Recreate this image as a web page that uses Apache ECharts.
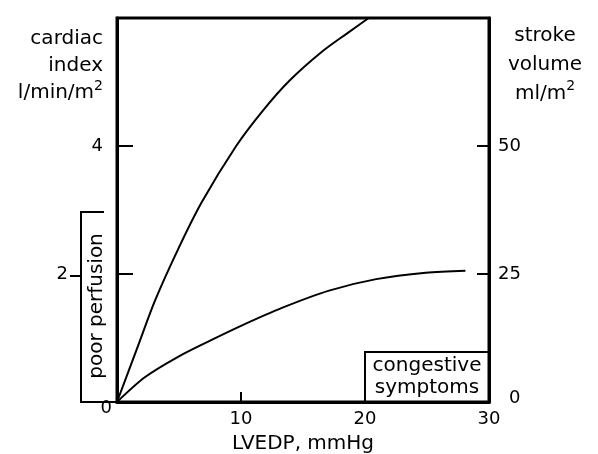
<!DOCTYPE html>
<html>
<head>
<meta charset="utf-8">
<script src="https://cdn.jsdelivr.net/npm/echarts@6/dist/echarts.min.js"></script>
<style>
  html, body { margin: 0; padding: 0; background: #fff; }
  #chart { width: 598px; height: 454px; }
</style>
</head>
<body>
<div id="chart"></div>
<script>
// LVEDP (mmHg) vs cardiac index (l/min/m2)
const upperX = [0, 1.74, 3.08, 4.96, 6.83, 9.61, 11.75, 13.9, 16.5, 18.7, 20.3]
const upperY = [0, 0.9, 1.59, 2.40, 3.12, 4.0, 4.55, 5.02, 5.47, 5.78, 6.0]
const lowerX = [0, 2.27, 4.96, 7.63, 10.0, 13.3, 17.1, 20.9, 24.9, 28.1]
const lowerY = [0, 0.39, 0.71, 0.97, 1.19, 1.47, 1.74, 1.92, 2.02, 2.05]

const xTicks = [0, 10, 20, 30]
const leftTicks = [0, 2, 4]
const rightTicks = [0, 25, 50]

const font = 'DejaVu Sans'
const ink = '#000'

const chart = echarts.init(document.getElementById('chart'))

const pairs = (xs, ys) => xs.map((x, i) => [x, ys[i]])

// 注释框位置（数据坐标）
const congestiveBox = [[20, 0], [30, 0.78]]

const supStyle = { fontFamily: font, fontSize: 14, fill: ink, verticalAlign: 'top', lineHeight: 20 }

const option = {
  animation: false,
  backgroundColor: '#fff',
  textStyle: { fontFamily: font, color: ink },
  grid: {
    left: 117, right: 109, top: 18, bottom: 52,
    outerBoundsMode: 'none', containLabel: false,
    show: true, borderColor: ink, borderWidth: 3
  },
  xAxis: {
    type: 'value', min: 0, max: 30, interval: 10,
    name: 'LVEDP, mmHg', nameLocation: 'middle', nameGap: 32,
    nameTextStyle: { fontFamily: font, fontSize: 20, color: ink },
    axisLine: { show: true, lineStyle: { color: ink, width: 3 } },
    axisTick: { show: true, inside: true, length: 10, lineStyle: { color: ink, width: 2 } },
    splitLine: { show: false },
    axisLabel: {
      margin: 8, fontFamily: font, fontSize: 18, color: ink,
      customValues: xTicks,
      formatter: v => v === 0 ? '' : String(v)
    }
  },
  yAxis: [
    {
      type: 'value', min: 0, max: 6, interval: 2,
      axisLine: { show: true, lineStyle: { color: ink, width: 3 } },
      axisTick: { show: true, inside: true, length: 16, lineStyle: { color: ink, width: 2 } },
      splitLine: { show: false },
      axisLabel: {
        margin: 5, fontFamily: font, fontSize: 18, color: ink,
        customValues: leftTicks,
        formatter: v => v === 0 ? '{z|0}' : (v === 2 ? '{b|2}' : '{f|4}'),
        rich: {
          z: { fontFamily: font, fontSize: 18, color: ink, padding: [12, 0, 0, 0] },
          b: { fontFamily: font, fontSize: 18, color: ink, padding: [0, 44, 0, 0] },
          f: { fontFamily: font, fontSize: 18, color: ink, padding: [0, 9, 0, 0] }
        }
      }
    },
    {
      type: 'value', min: 0, max: 75, interval: 25, position: 'right',
      axisLine: { show: true, lineStyle: { color: ink, width: 3 } },
      axisTick: { show: true, inside: true, length: 12, lineStyle: { color: ink, width: 2 } },
      splitLine: { show: false },
      axisLabel: {
        margin: 9, fontFamily: font, fontSize: 18, color: ink,
        customValues: rightTicks,
        formatter: v => v === 0 ? '{z|0}' : String(v),
        rich: { z: { fontFamily: font, fontSize: 18, color: ink, padding: [0, 0, 7, 11] } }
      }
    }
  ],
  series: [
    {
      name: 'upper', type: 'line', data: pairs(upperX, upperY),
      smooth: 0.3, showSymbol: false,
      lineStyle: { color: ink, width: 2 }
    },
    {
      name: 'lower', type: 'line', data: pairs(lowerX, lowerY),
      smooth: 0.3, showSymbol: false,
      lineStyle: { color: ink, width: 2 },
      markArea: {
        silent: true,
        itemStyle: { color: 'rgba(0,0,0,0)', borderColor: ink, borderWidth: 2 },
        label: {
          show: true, position: 'inside', fontFamily: font, fontSize: 20, color: ink,
          lineHeight: 22, align: 'center'
        },
        data: [[
          { name: 'congestive\nsymptoms', coord: congestiveBox[0] },
          { coord: congestiveBox[1] }
        ]]
      }
    }
  ],
  graphic: [
    // 左右轴标题
    {
      type: 'text', silent: true, x: 103, y: 25,
      style: {
        text: 'cardiac\nindex\nl/min/m{s|2}', fontFamily: font, fontSize: 20, fill: ink,
        lineHeight: 27, align: 'right', verticalAlign: 'top',
        rich: { s: supStyle }
      }
    },
    {
      type: 'text', silent: true, x: 545, y: 21,
      style: {
        text: 'stroke\nvolume\nml/m{s|2}', fontFamily: font, fontSize: 20, fill: ink,
        lineHeight: 29, align: 'center', verticalAlign: 'top',
        rich: { s: supStyle }
      }
    },
    // poor perfusion 括号
    {
      type: 'polyline', silent: true,
      shape: { points: [[104, 212], [81, 212], [81, 402], [117, 402]] },
      style: { stroke: ink, lineWidth: 2, fill: null }
    },
    {
      type: 'line', silent: true,
      shape: { x1: 70, y1: 276, x2: 81, y2: 276 },
      style: { stroke: ink, lineWidth: 2 }
    },
    {
      type: 'text', silent: true,
      x: 97, y: 306, rotation: Math.PI / 2,
      style: {
        text: 'poor perfusion', fontFamily: font, fontSize: 20, fill: ink,
        align: 'center', verticalAlign: 'middle'
      }
    }
  ]
}

chart.setOption(option)
</script>
</body>
</html>
